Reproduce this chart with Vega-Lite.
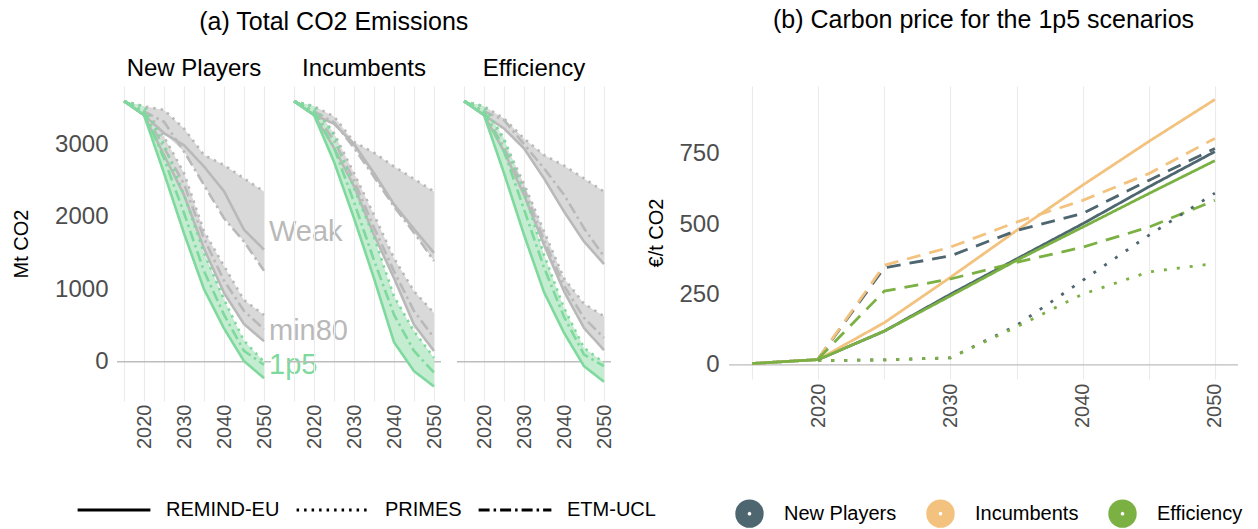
{
 "$schema": "https://vega.github.io/schema/vega-lite/v6.json",
 "background": "white",
 "padding": {"left": 11, "top": 8, "right": 5, "bottom": 5},
 "config": {
  "font": "Liberation Sans",
  "view": {"stroke": null},
  "axis": {"domain": false, "ticks": false, "gridColor": "#ebebeb", "gridWidth": 1.1, "labelColor": "#4d4d4d", "labelFont": "Liberation Sans", "titleFont": "Liberation Sans", "titleFontWeight": "normal", "titleColor": "black"},
  "title": {"fontSize": 25, "fontWeight": "normal", "color": "black", "font": "Liberation Sans", "anchor": "middle"},
  "legend": {"labelFont": "Liberation Sans"}
 },
 "datasets": {
  "emis": [
   {"f":"New Players","s":"Weak","m":"REMIND-EU","y":2015,"v":3590},{"f":"New Players","s":"Weak","m":"REMIND-EU","y":2020,"v":3400},{"f":"New Players","s":"Weak","m":"REMIND-EU","y":2025,"v":3150},{"f":"New Players","s":"Weak","m":"REMIND-EU","y":2030,"v":2985},{"f":"New Players","s":"Weak","m":"REMIND-EU","y":2035,"v":2690},{"f":"New Players","s":"Weak","m":"REMIND-EU","y":2040,"v":2350},{"f":"New Players","s":"Weak","m":"REMIND-EU","y":2045,"v":1820},{"f":"New Players","s":"Weak","m":"REMIND-EU","y":2050,"v":1545},
   {"f":"New Players","s":"Weak","m":"PRIMES","y":2015,"v":3590},{"f":"New Players","s":"Weak","m":"PRIMES","y":2020,"v":3520},{"f":"New Players","s":"Weak","m":"PRIMES","y":2025,"v":3470},{"f":"New Players","s":"Weak","m":"PRIMES","y":2030,"v":3214},{"f":"New Players","s":"Weak","m":"PRIMES","y":2035,"v":2848},{"f":"New Players","s":"Weak","m":"PRIMES","y":2040,"v":2710},{"f":"New Players","s":"Weak","m":"PRIMES","y":2045,"v":2527},{"f":"New Players","s":"Weak","m":"PRIMES","y":2050,"v":2345},
   {"f":"New Players","s":"Weak","m":"ETM-UCL","y":2015,"v":3590},{"f":"New Players","s":"Weak","m":"ETM-UCL","y":2020,"v":3450},{"f":"New Players","s":"Weak","m":"ETM-UCL","y":2025,"v":3306},{"f":"New Players","s":"Weak","m":"ETM-UCL","y":2030,"v":2898},{"f":"New Players","s":"Weak","m":"ETM-UCL","y":2035,"v":2436},{"f":"New Players","s":"Weak","m":"ETM-UCL","y":2040,"v":1978},{"f":"New Players","s":"Weak","m":"ETM-UCL","y":2045,"v":1657},{"f":"New Players","s":"Weak","m":"ETM-UCL","y":2050,"v":1254},
   {"f":"New Players","s":"min80","m":"REMIND-EU","y":2015,"v":3590},{"f":"New Players","s":"min80","m":"REMIND-EU","y":2020,"v":3400},{"f":"New Players","s":"min80","m":"REMIND-EU","y":2025,"v":2850},{"f":"New Players","s":"min80","m":"REMIND-EU","y":2030,"v":2300},{"f":"New Players","s":"min80","m":"REMIND-EU","y":2035,"v":1560},{"f":"New Players","s":"min80","m":"REMIND-EU","y":2040,"v":950},{"f":"New Players","s":"min80","m":"REMIND-EU","y":2045,"v":520},{"f":"New Players","s":"min80","m":"REMIND-EU","y":2050,"v":284},
   {"f":"New Players","s":"min80","m":"PRIMES","y":2015,"v":3590},{"f":"New Players","s":"min80","m":"PRIMES","y":2020,"v":3520},{"f":"New Players","s":"min80","m":"PRIMES","y":2025,"v":3100},{"f":"New Players","s":"min80","m":"PRIMES","y":2030,"v":2600},{"f":"New Players","s":"min80","m":"PRIMES","y":2035,"v":1800},{"f":"New Players","s":"min80","m":"PRIMES","y":2040,"v":1320},{"f":"New Players","s":"min80","m":"PRIMES","y":2045,"v":850},{"f":"New Players","s":"min80","m":"PRIMES","y":2050,"v":645},
   {"f":"New Players","s":"min80","m":"ETM-UCL","y":2015,"v":3590},{"f":"New Players","s":"min80","m":"ETM-UCL","y":2020,"v":3450},{"f":"New Players","s":"min80","m":"ETM-UCL","y":2025,"v":2950},{"f":"New Players","s":"min80","m":"ETM-UCL","y":2030,"v":2450},{"f":"New Players","s":"min80","m":"ETM-UCL","y":2035,"v":1700},{"f":"New Players","s":"min80","m":"ETM-UCL","y":2040,"v":1120},{"f":"New Players","s":"min80","m":"ETM-UCL","y":2045,"v":700},{"f":"New Players","s":"min80","m":"ETM-UCL","y":2050,"v":450},
   {"f":"New Players","s":"1p5","m":"REMIND-EU","y":2015,"v":3590},{"f":"New Players","s":"1p5","m":"REMIND-EU","y":2020,"v":3400},{"f":"New Players","s":"1p5","m":"REMIND-EU","y":2025,"v":2600},{"f":"New Players","s":"1p5","m":"REMIND-EU","y":2030,"v":1770},{"f":"New Players","s":"1p5","m":"REMIND-EU","y":2035,"v":1000},{"f":"New Players","s":"1p5","m":"REMIND-EU","y":2040,"v":460},{"f":"New Players","s":"1p5","m":"REMIND-EU","y":2045,"v":10},{"f":"New Players","s":"1p5","m":"REMIND-EU","y":2050,"v":-225},
   {"f":"New Players","s":"1p5","m":"PRIMES","y":2015,"v":3590},{"f":"New Players","s":"1p5","m":"PRIMES","y":2020,"v":3520},{"f":"New Players","s":"1p5","m":"PRIMES","y":2025,"v":3000},{"f":"New Players","s":"1p5","m":"PRIMES","y":2030,"v":2300},{"f":"New Players","s":"1p5","m":"PRIMES","y":2035,"v":1500},{"f":"New Players","s":"1p5","m":"PRIMES","y":2040,"v":860},{"f":"New Players","s":"1p5","m":"PRIMES","y":2045,"v":290},{"f":"New Players","s":"1p5","m":"PRIMES","y":2050,"v":0},
   {"f":"New Players","s":"1p5","m":"ETM-UCL","y":2015,"v":3590},{"f":"New Players","s":"1p5","m":"ETM-UCL","y":2020,"v":3450},{"f":"New Players","s":"1p5","m":"ETM-UCL","y":2025,"v":2800},{"f":"New Players","s":"1p5","m":"ETM-UCL","y":2030,"v":2050},{"f":"New Players","s":"1p5","m":"ETM-UCL","y":2035,"v":1250},{"f":"New Players","s":"1p5","m":"ETM-UCL","y":2040,"v":650},{"f":"New Players","s":"1p5","m":"ETM-UCL","y":2045,"v":150},{"f":"New Players","s":"1p5","m":"ETM-UCL","y":2050,"v":-40},
   {"f":"Incumbents","s":"Weak","m":"REMIND-EU","y":2015,"v":3590},{"f":"Incumbents","s":"Weak","m":"REMIND-EU","y":2020,"v":3400},{"f":"Incumbents","s":"Weak","m":"REMIND-EU","y":2025,"v":3280},{"f":"Incumbents","s":"Weak","m":"REMIND-EU","y":2030,"v":3000},{"f":"Incumbents","s":"Weak","m":"REMIND-EU","y":2035,"v":2600},{"f":"Incumbents","s":"Weak","m":"REMIND-EU","y":2040,"v":2170},{"f":"Incumbents","s":"Weak","m":"REMIND-EU","y":2045,"v":1830},{"f":"Incumbents","s":"Weak","m":"REMIND-EU","y":2050,"v":1500},
   {"f":"Incumbents","s":"Weak","m":"PRIMES","y":2015,"v":3590},{"f":"Incumbents","s":"Weak","m":"PRIMES","y":2020,"v":3520},{"f":"Incumbents","s":"Weak","m":"PRIMES","y":2025,"v":3380},{"f":"Incumbents","s":"Weak","m":"PRIMES","y":2030,"v":3030},{"f":"Incumbents","s":"Weak","m":"PRIMES","y":2035,"v":2880},{"f":"Incumbents","s":"Weak","m":"PRIMES","y":2040,"v":2690},{"f":"Incumbents","s":"Weak","m":"PRIMES","y":2045,"v":2520},{"f":"Incumbents","s":"Weak","m":"PRIMES","y":2050,"v":2345},
   {"f":"Incumbents","s":"Weak","m":"ETM-UCL","y":2015,"v":3590},{"f":"Incumbents","s":"Weak","m":"ETM-UCL","y":2020,"v":3450},{"f":"Incumbents","s":"Weak","m":"ETM-UCL","y":2025,"v":3300},{"f":"Incumbents","s":"Weak","m":"ETM-UCL","y":2030,"v":2950},{"f":"Incumbents","s":"Weak","m":"ETM-UCL","y":2035,"v":2550},{"f":"Incumbents","s":"Weak","m":"ETM-UCL","y":2040,"v":2140},{"f":"Incumbents","s":"Weak","m":"ETM-UCL","y":2045,"v":1780},{"f":"Incumbents","s":"Weak","m":"ETM-UCL","y":2050,"v":1390},
   {"f":"Incumbents","s":"min80","m":"REMIND-EU","y":2015,"v":3590},{"f":"Incumbents","s":"min80","m":"REMIND-EU","y":2020,"v":3400},{"f":"Incumbents","s":"min80","m":"REMIND-EU","y":2025,"v":2950},{"f":"Incumbents","s":"min80","m":"REMIND-EU","y":2030,"v":2420},{"f":"Incumbents","s":"min80","m":"REMIND-EU","y":2035,"v":1749},{"f":"Incumbents","s":"min80","m":"REMIND-EU","y":2040,"v":1154},{"f":"Incumbents","s":"min80","m":"REMIND-EU","y":2045,"v":512},{"f":"Incumbents","s":"min80","m":"REMIND-EU","y":2050,"v":150},
   {"f":"Incumbents","s":"min80","m":"PRIMES","y":2015,"v":3590},{"f":"Incumbents","s":"min80","m":"PRIMES","y":2020,"v":3520},{"f":"Incumbents","s":"min80","m":"PRIMES","y":2025,"v":3150},{"f":"Incumbents","s":"min80","m":"PRIMES","y":2030,"v":2600},{"f":"Incumbents","s":"min80","m":"PRIMES","y":2035,"v":2024},{"f":"Incumbents","s":"min80","m":"PRIMES","y":2040,"v":1428},{"f":"Incumbents","s":"min80","m":"PRIMES","y":2045,"v":971},{"f":"Incumbents","s":"min80","m":"PRIMES","y":2050,"v":673},
   {"f":"Incumbents","s":"min80","m":"ETM-UCL","y":2015,"v":3590},{"f":"Incumbents","s":"min80","m":"ETM-UCL","y":2020,"v":3450},{"f":"Incumbents","s":"min80","m":"ETM-UCL","y":2025,"v":3050},{"f":"Incumbents","s":"min80","m":"ETM-UCL","y":2030,"v":2500},{"f":"Incumbents","s":"min80","m":"ETM-UCL","y":2035,"v":1850},{"f":"Incumbents","s":"min80","m":"ETM-UCL","y":2040,"v":1250},{"f":"Incumbents","s":"min80","m":"ETM-UCL","y":2045,"v":700},{"f":"Incumbents","s":"min80","m":"ETM-UCL","y":2050,"v":330},
   {"f":"Incumbents","s":"1p5","m":"REMIND-EU","y":2015,"v":3590},{"f":"Incumbents","s":"1p5","m":"REMIND-EU","y":2020,"v":3400},{"f":"Incumbents","s":"1p5","m":"REMIND-EU","y":2025,"v":2756},{"f":"Incumbents","s":"1p5","m":"REMIND-EU","y":2030,"v":1978},{"f":"Incumbents","s":"1p5","m":"REMIND-EU","y":2035,"v":1150},{"f":"Incumbents","s":"1p5","m":"REMIND-EU","y":2040,"v":270},{"f":"Incumbents","s":"1p5","m":"REMIND-EU","y":2045,"v":-128},{"f":"Incumbents","s":"1p5","m":"REMIND-EU","y":2050,"v":-340},
   {"f":"Incumbents","s":"1p5","m":"PRIMES","y":2015,"v":3590},{"f":"Incumbents","s":"1p5","m":"PRIMES","y":2020,"v":3520},{"f":"Incumbents","s":"1p5","m":"PRIMES","y":2025,"v":3122},{"f":"Incumbents","s":"1p5","m":"PRIMES","y":2030,"v":2390},{"f":"Incumbents","s":"1p5","m":"PRIMES","y":2035,"v":1720},{"f":"Incumbents","s":"1p5","m":"PRIMES","y":2040,"v":900},{"f":"Incumbents","s":"1p5","m":"PRIMES","y":2045,"v":420},{"f":"Incumbents","s":"1p5","m":"PRIMES","y":2050,"v":55},
   {"f":"Incumbents","s":"1p5","m":"ETM-UCL","y":2015,"v":3590},{"f":"Incumbents","s":"1p5","m":"ETM-UCL","y":2020,"v":3450},{"f":"Incumbents","s":"1p5","m":"ETM-UCL","y":2025,"v":2950},{"f":"Incumbents","s":"1p5","m":"ETM-UCL","y":2030,"v":2200},{"f":"Incumbents","s":"1p5","m":"ETM-UCL","y":2035,"v":1400},{"f":"Incumbents","s":"1p5","m":"ETM-UCL","y":2040,"v":650},{"f":"Incumbents","s":"1p5","m":"ETM-UCL","y":2045,"v":150},{"f":"Incumbents","s":"1p5","m":"ETM-UCL","y":2050,"v":-150},
   {"f":"Efficiency","s":"Weak","m":"REMIND-EU","y":2015,"v":3590},{"f":"Efficiency","s":"Weak","m":"REMIND-EU","y":2020,"v":3400},{"f":"Efficiency","s":"Weak","m":"REMIND-EU","y":2025,"v":3214},{"f":"Efficiency","s":"Weak","m":"REMIND-EU","y":2030,"v":2940},{"f":"Efficiency","s":"Weak","m":"REMIND-EU","y":2035,"v":2527},{"f":"Efficiency","s":"Weak","m":"REMIND-EU","y":2040,"v":2070},{"f":"Efficiency","s":"Weak","m":"REMIND-EU","y":2045,"v":1657},{"f":"Efficiency","s":"Weak","m":"REMIND-EU","y":2050,"v":1346},
   {"f":"Efficiency","s":"Weak","m":"PRIMES","y":2015,"v":3590},{"f":"Efficiency","s":"Weak","m":"PRIMES","y":2020,"v":3520},{"f":"Efficiency","s":"Weak","m":"PRIMES","y":2025,"v":3352},{"f":"Efficiency","s":"Weak","m":"PRIMES","y":2030,"v":3077},{"f":"Efficiency","s":"Weak","m":"PRIMES","y":2035,"v":2848},{"f":"Efficiency","s":"Weak","m":"PRIMES","y":2040,"v":2702},{"f":"Efficiency","s":"Weak","m":"PRIMES","y":2045,"v":2527},{"f":"Efficiency","s":"Weak","m":"PRIMES","y":2050,"v":2345},
   {"f":"Efficiency","s":"Weak","m":"ETM-UCL","y":2015,"v":3590},{"f":"Efficiency","s":"Weak","m":"ETM-UCL","y":2020,"v":3450},{"f":"Efficiency","s":"Weak","m":"ETM-UCL","y":2025,"v":3330},{"f":"Efficiency","s":"Weak","m":"ETM-UCL","y":2030,"v":3000},{"f":"Efficiency","s":"Weak","m":"ETM-UCL","y":2035,"v":2665},{"f":"Efficiency","s":"Weak","m":"ETM-UCL","y":2040,"v":2303},{"f":"Efficiency","s":"Weak","m":"ETM-UCL","y":2045,"v":1841},{"f":"Efficiency","s":"Weak","m":"ETM-UCL","y":2050,"v":1450},
   {"f":"Efficiency","s":"min80","m":"REMIND-EU","y":2015,"v":3590},{"f":"Efficiency","s":"min80","m":"REMIND-EU","y":2020,"v":3400},{"f":"Efficiency","s":"min80","m":"REMIND-EU","y":2025,"v":2900},{"f":"Efficiency","s":"min80","m":"REMIND-EU","y":2030,"v":2300},{"f":"Efficiency","s":"min80","m":"REMIND-EU","y":2035,"v":1612},{"f":"Efficiency","s":"min80","m":"REMIND-EU","y":2040,"v":971},{"f":"Efficiency","s":"min80","m":"REMIND-EU","y":2045,"v":467},{"f":"Efficiency","s":"min80","m":"REMIND-EU","y":2050,"v":160},
   {"f":"Efficiency","s":"min80","m":"PRIMES","y":2015,"v":3590},{"f":"Efficiency","s":"min80","m":"PRIMES","y":2020,"v":3520},{"f":"Efficiency","s":"min80","m":"PRIMES","y":2025,"v":3050},{"f":"Efficiency","s":"min80","m":"PRIMES","y":2030,"v":2450},{"f":"Efficiency","s":"min80","m":"PRIMES","y":2035,"v":1800},{"f":"Efficiency","s":"min80","m":"PRIMES","y":2040,"v":1150},{"f":"Efficiency","s":"min80","m":"PRIMES","y":2045,"v":800},{"f":"Efficiency","s":"min80","m":"PRIMES","y":2050,"v":627},
   {"f":"Efficiency","s":"min80","m":"ETM-UCL","y":2015,"v":3590},{"f":"Efficiency","s":"min80","m":"ETM-UCL","y":2020,"v":3450},{"f":"Efficiency","s":"min80","m":"ETM-UCL","y":2025,"v":2950},{"f":"Efficiency","s":"min80","m":"ETM-UCL","y":2030,"v":2380},{"f":"Efficiency","s":"min80","m":"ETM-UCL","y":2035,"v":1680},{"f":"Efficiency","s":"min80","m":"ETM-UCL","y":2040,"v":1050},{"f":"Efficiency","s":"min80","m":"ETM-UCL","y":2045,"v":604},{"f":"Efficiency","s":"min80","m":"ETM-UCL","y":2050,"v":330},
   {"f":"Efficiency","s":"1p5","m":"REMIND-EU","y":2015,"v":3590},{"f":"Efficiency","s":"1p5","m":"REMIND-EU","y":2020,"v":3400},{"f":"Efficiency","s":"1p5","m":"REMIND-EU","y":2025,"v":2600},{"f":"Efficiency","s":"1p5","m":"REMIND-EU","y":2030,"v":1750},{"f":"Efficiency","s":"1p5","m":"REMIND-EU","y":2035,"v":960},{"f":"Efficiency","s":"1p5","m":"REMIND-EU","y":2040,"v":400},{"f":"Efficiency","s":"1p5","m":"REMIND-EU","y":2045,"v":-60},{"f":"Efficiency","s":"1p5","m":"REMIND-EU","y":2050,"v":-275},
   {"f":"Efficiency","s":"1p5","m":"PRIMES","y":2015,"v":3590},{"f":"Efficiency","s":"1p5","m":"PRIMES","y":2020,"v":3520},{"f":"Efficiency","s":"1p5","m":"PRIMES","y":2025,"v":3077},{"f":"Efficiency","s":"1p5","m":"PRIMES","y":2030,"v":2345},{"f":"Efficiency","s":"1p5","m":"PRIMES","y":2035,"v":1474},{"f":"Efficiency","s":"1p5","m":"PRIMES","y":2040,"v":742},{"f":"Efficiency","s":"1p5","m":"PRIMES","y":2045,"v":192},{"f":"Efficiency","s":"1p5","m":"PRIMES","y":2050,"v":-14},
   {"f":"Efficiency","s":"1p5","m":"ETM-UCL","y":2015,"v":3590},{"f":"Efficiency","s":"1p5","m":"ETM-UCL","y":2020,"v":3450},{"f":"Efficiency","s":"1p5","m":"ETM-UCL","y":2025,"v":2900},{"f":"Efficiency","s":"1p5","m":"ETM-UCL","y":2030,"v":2100},{"f":"Efficiency","s":"1p5","m":"ETM-UCL","y":2035,"v":1300},{"f":"Efficiency","s":"1p5","m":"ETM-UCL","y":2040,"v":620},{"f":"Efficiency","s":"1p5","m":"ETM-UCL","y":2045,"v":100},{"f":"Efficiency","s":"1p5","m":"ETM-UCL","y":2050,"v":-60},
   {"f":"New Players","s":"Weak","lab":"Weak","y":2050,"v":1790},
   {"f":"New Players","s":"min80","lab":"min80","y":2050,"v":430},
   {"f":"New Players","s":"1p5","lab":"1p5","y":2050,"v":-50}
  ],
  "price": [
   {"sc":"New Players","m":"REMIND-EU","y":2015,"v":5},{"sc":"New Players","m":"REMIND-EU","y":2020,"v":19},{"sc":"New Players","m":"REMIND-EU","y":2025,"v":120},{"sc":"New Players","m":"REMIND-EU","y":2030,"v":251},{"sc":"New Players","m":"REMIND-EU","y":2035,"v":376},{"sc":"New Players","m":"REMIND-EU","y":2040,"v":501},{"sc":"New Players","m":"REMIND-EU","y":2045,"v":632},{"sc":"New Players","m":"REMIND-EU","y":2050,"v":757},
   {"sc":"Incumbents","m":"REMIND-EU","y":2015,"v":5},{"sc":"Incumbents","m":"REMIND-EU","y":2020,"v":19},{"sc":"Incumbents","m":"REMIND-EU","y":2025,"v":150},{"sc":"Incumbents","m":"REMIND-EU","y":2030,"v":311},{"sc":"Incumbents","m":"REMIND-EU","y":2035,"v":477},{"sc":"Incumbents","m":"REMIND-EU","y":2040,"v":638},{"sc":"Incumbents","m":"REMIND-EU","y":2045,"v":793},{"sc":"Incumbents","m":"REMIND-EU","y":2050,"v":942},
   {"sc":"Efficiency","m":"REMIND-EU","y":2015,"v":5},{"sc":"Efficiency","m":"REMIND-EU","y":2020,"v":19},{"sc":"Efficiency","m":"REMIND-EU","y":2025,"v":120},{"sc":"Efficiency","m":"REMIND-EU","y":2030,"v":245},{"sc":"Efficiency","m":"REMIND-EU","y":2035,"v":371},{"sc":"Efficiency","m":"REMIND-EU","y":2040,"v":489},{"sc":"Efficiency","m":"REMIND-EU","y":2045,"v":608},{"sc":"Efficiency","m":"REMIND-EU","y":2050,"v":725},
   {"sc":"New Players","m":"ETM-UCL","y":2020,"v":22},{"sc":"New Players","m":"ETM-UCL","y":2025,"v":345},{"sc":"New Players","m":"ETM-UCL","y":2030,"v":387},{"sc":"New Players","m":"ETM-UCL","y":2035,"v":477},{"sc":"New Players","m":"ETM-UCL","y":2040,"v":538},{"sc":"New Players","m":"ETM-UCL","y":2045,"v":655},{"sc":"New Players","m":"ETM-UCL","y":2050,"v":768},
   {"sc":"Incumbents","m":"ETM-UCL","y":2020,"v":22},{"sc":"Incumbents","m":"ETM-UCL","y":2025,"v":354},{"sc":"Incumbents","m":"ETM-UCL","y":2030,"v":418},{"sc":"Incumbents","m":"ETM-UCL","y":2035,"v":507},{"sc":"Incumbents","m":"ETM-UCL","y":2040,"v":584},{"sc":"Incumbents","m":"ETM-UCL","y":2045,"v":679},{"sc":"Incumbents","m":"ETM-UCL","y":2050,"v":804},
   {"sc":"Efficiency","m":"ETM-UCL","y":2020,"v":22},{"sc":"Efficiency","m":"ETM-UCL","y":2025,"v":262},{"sc":"Efficiency","m":"ETM-UCL","y":2030,"v":305},{"sc":"Efficiency","m":"ETM-UCL","y":2035,"v":364},{"sc":"Efficiency","m":"ETM-UCL","y":2040,"v":418},{"sc":"Efficiency","m":"ETM-UCL","y":2045,"v":489},{"sc":"Efficiency","m":"ETM-UCL","y":2050,"v":584},
   {"sc":"New Players","m":"PRIMES","y":2020,"v":15},{"sc":"New Players","m":"PRIMES","y":2025,"v":18},{"sc":"New Players","m":"PRIMES","y":2030,"v":25},{"sc":"New Players","m":"PRIMES","y":2035,"v":140},{"sc":"New Players","m":"PRIMES","y":2040,"v":300},{"sc":"New Players","m":"PRIMES","y":2045,"v":460},{"sc":"New Players","m":"PRIMES","y":2050,"v":610},
   {"sc":"Efficiency","m":"PRIMES","y":2020,"v":15},{"sc":"Efficiency","m":"PRIMES","y":2025,"v":18},{"sc":"Efficiency","m":"PRIMES","y":2030,"v":25},{"sc":"Efficiency","m":"PRIMES","y":2035,"v":135},{"sc":"Efficiency","m":"PRIMES","y":2040,"v":251},{"sc":"Efficiency","m":"PRIMES","y":2045,"v":330},{"sc":"Efficiency","m":"PRIMES","y":2050,"v":360}
  ]
 },
 "spacing": -10,
 "resolve": {"scale": {"color": "independent", "strokeDash": "independent", "fill": "independent", "x": "independent", "y": "independent"}, "legend": {"color": "independent", "strokeDash": "independent"}},
 "hconcat": [
  {
   "title": {"text": "(a) Total CO2 Emissions", "offset": 22},
   "data": {"name": "emis"},
   "spacing": 16,
   "bounds": "flush",
   "resolve": {"scale": {"color": "independent", "strokeDash": "independent", "fill": "independent", "x": "independent", "y": "independent"}, "legend": {"strokeDash": "independent"}},
   "hconcat": [
    {
     "title": {"text": "New Players", "fontSize": 24, "offset": 5},
     "width": 154, "height": 315,
     "transform": [{"filter": "datum.f == 'New Players'"}],
     "layer": [
      {"transform": [{"filter": "datum.y == 2015 && datum.s == 'Weak' && datum.m == 'REMIND-EU'"}],
       "mark": {"type": "rule", "color": "#bdbdbd", "strokeWidth": 1.4},
       "encoding": {"y": {"datum": 0, "type": "quantitative", "title": "Mt CO2", "scale": {"domain": [-540, 3800], "nice": false, "zero": false}, "axis": {"values": [-500, 0, 500, 1000, 1500, 2000, 2500, 3000, 3500], "format": "d", "labelExpr": "datum.value % 1000 == 0 ? datum.label : ''", "labelFontSize": 24, "labelPadding": 9, "titleFontSize": 20, "titlePadding": 23, "labelOverlap": false}}}},
      {"transform": [{"filter": "datum.m != null"}, {"aggregate": [{"op": "min", "field": "v", "as": "lo"}, {"op": "max", "field": "v", "as": "hi"}], "groupby": ["s", "y"]}],
       "mark": {"type": "area"},
       "encoding": {
        "x": {"field": "y", "type": "quantitative", "title": null, "scale": {"domain": [2013.25, 2051.75], "nice": false, "zero": false}, "axis": {"values": [2015, 2020, 2025, 2030, 2035, 2040, 2045, 2050], "format": "d", "labelExpr": "datum.value % 10 == 0 ? datum.label : ''", "labelAngle": -90, "labelFontSize": 20, "labelPadding": 3, "labelOverlap": false}},
        "y": {"field": "lo", "type": "quantitative", "title": "Mt CO2", "scale": {"domain": [-540, 3800], "nice": false, "zero": false}, "axis": {"values": [-500, 0, 500, 1000, 1500, 2000, 2500, 3000, 3500], "format": "d", "labelExpr": "datum.value % 1000 == 0 ? datum.label : ''", "labelFontSize": 24, "labelPadding": 9, "titleFontSize": 20, "titlePadding": 23, "labelOverlap": false}},
        "y2": {"field": "hi"},
        "fill": {"field": "s", "type": "nominal", "scale": {"domain": ["Weak", "min80", "1p5"], "range": ["#d9d9d9", "#d9d9d9", "#c3ecd0"]}, "legend": null}}},
      {"transform": [{"filter": "datum.m != null"}],
       "mark": {"type": "line", "strokeWidth": 2.6, "strokeCap": "butt"},
       "encoding": {
        "x": {"field": "y", "type": "quantitative", "title": null, "scale": {"domain": [2013.25, 2051.75], "nice": false, "zero": false}, "axis": {"values": [2015, 2020, 2025, 2030, 2035, 2040, 2045, 2050], "format": "d", "labelExpr": "datum.value % 10 == 0 ? datum.label : ''", "labelAngle": -90, "labelFontSize": 20, "labelPadding": 3, "labelOverlap": false}},
        "y": {"field": "v", "type": "quantitative", "title": "Mt CO2", "scale": {"domain": [-540, 3800], "nice": false, "zero": false}, "axis": {"values": [-500, 0, 500, 1000, 1500, 2000, 2500, 3000, 3500], "format": "d", "labelExpr": "datum.value % 1000 == 0 ? datum.label : ''", "labelFontSize": 24, "labelPadding": 9, "titleFontSize": 20, "titlePadding": 23, "labelOverlap": false}},
        "color": {"field": "s", "type": "nominal", "scale": {"domain": ["Weak", "min80", "1p5"], "range": ["#b9b9b9", "#b9b9b9", "#7ed99d"]}, "legend": null},
        "strokeDash": {"field": "m", "type": "nominal", "scale": {"domain": ["REMIND-EU", "PRIMES", "ETM-UCL"], "range": [[1, 0], [2.5, 5], [11, 4, 2.5, 4]]},
         "legend": {"orient": "none", "legendX": -41, "legendY": 386, "direction": "horizontal", "title": null, "symbolType": "stroke", "symbolSize": 5300, "symbolStrokeWidth": 3, "symbolStrokeColor": "black", "labelFontSize": 20, "labelColor": "black", "labelOffset": 14, "columnPadding": 10}}}},
      {"transform": [{"filter": "datum.lab != null"}],
       "mark": {"type": "text", "align": "left", "baseline": "middle", "dx": 5, "fontSize": 29, "font": "Liberation Sans"},
       "encoding": {
        "x": {"field": "y", "type": "quantitative", "title": null, "scale": {"domain": [2013.25, 2051.75], "nice": false, "zero": false}, "axis": {"values": [2015, 2020, 2025, 2030, 2035, 2040, 2045, 2050], "format": "d", "labelExpr": "datum.value % 10 == 0 ? datum.label : ''", "labelAngle": -90, "labelFontSize": 20, "labelPadding": 3, "labelOverlap": false}},
        "y": {"field": "v", "type": "quantitative", "title": "Mt CO2", "scale": {"domain": [-540, 3800], "nice": false, "zero": false}, "axis": {"values": [-500, 0, 500, 1000, 1500, 2000, 2500, 3000, 3500], "format": "d", "labelExpr": "datum.value % 1000 == 0 ? datum.label : ''", "labelFontSize": 24, "labelPadding": 9, "titleFontSize": 20, "titlePadding": 23, "labelOverlap": false}},
        "text": {"field": "lab"},
        "color": {"field": "s", "type": "nominal", "legend": null}}}
     ]
    },
    {
     "title": {"text": "Incumbents", "fontSize": 24, "offset": 5},
     "width": 154, "height": 315,
     "transform": [{"filter": "datum.f == 'Incumbents'"}],
     "layer": [
      {"transform": [{"filter": "datum.y == 2015 && datum.s == 'Weak' && datum.m == 'REMIND-EU'"}],
       "mark": {"type": "rule", "color": "#bdbdbd", "strokeWidth": 1.4},
       "encoding": {"y": {"datum": 0, "type": "quantitative", "title": null, "scale": {"domain": [-540, 3800], "nice": false, "zero": false}, "axis": {"values": [-500, 0, 500, 1000, 1500, 2000, 2500, 3000, 3500], "labels": false}}}},
      {"transform": [{"filter": "datum.m != null"}, {"aggregate": [{"op": "min", "field": "v", "as": "lo"}, {"op": "max", "field": "v", "as": "hi"}], "groupby": ["s", "y"]}],
       "mark": {"type": "area"},
       "encoding": {
        "x": {"field": "y", "type": "quantitative", "title": null, "scale": {"domain": [2013.25, 2051.75], "nice": false, "zero": false}, "axis": {"values": [2015, 2020, 2025, 2030, 2035, 2040, 2045, 2050], "format": "d", "labelExpr": "datum.value % 10 == 0 ? datum.label : ''", "labelAngle": -90, "labelFontSize": 20, "labelPadding": 3, "labelOverlap": false}},
        "y": {"field": "lo", "type": "quantitative", "title": null, "scale": {"domain": [-540, 3800], "nice": false, "zero": false}, "axis": {"values": [-500, 0, 500, 1000, 1500, 2000, 2500, 3000, 3500], "labels": false}},
        "y2": {"field": "hi"},
        "fill": {"field": "s", "type": "nominal", "scale": {"domain": ["Weak", "min80", "1p5"], "range": ["#d9d9d9", "#d9d9d9", "#c3ecd0"]}, "legend": null}}},
      {"transform": [{"filter": "datum.m != null"}],
       "mark": {"type": "line", "strokeWidth": 2.6, "strokeCap": "butt"},
       "encoding": {
        "x": {"field": "y", "type": "quantitative", "title": null, "scale": {"domain": [2013.25, 2051.75], "nice": false, "zero": false}, "axis": {"values": [2015, 2020, 2025, 2030, 2035, 2040, 2045, 2050], "format": "d", "labelExpr": "datum.value % 10 == 0 ? datum.label : ''", "labelAngle": -90, "labelFontSize": 20, "labelPadding": 3, "labelOverlap": false}},
        "y": {"field": "v", "type": "quantitative", "title": null, "scale": {"domain": [-540, 3800], "nice": false, "zero": false}, "axis": {"values": [-500, 0, 500, 1000, 1500, 2000, 2500, 3000, 3500], "labels": false}},
        "color": {"field": "s", "type": "nominal", "scale": {"domain": ["Weak", "min80", "1p5"], "range": ["#b9b9b9", "#b9b9b9", "#7ed99d"]}, "legend": null},
        "strokeDash": {"field": "m", "type": "nominal", "scale": {"domain": ["REMIND-EU", "PRIMES", "ETM-UCL"], "range": [[1, 0], [2.5, 5], [11, 4, 2.5, 4]]}, "legend": null}}}
     ]
    },
    {
     "title": {"text": "Efficiency", "fontSize": 24, "offset": 5},
     "width": 154, "height": 315,
     "transform": [{"filter": "datum.f == 'Efficiency'"}],
     "layer": [
      {"transform": [{"filter": "datum.y == 2015 && datum.s == 'Weak' && datum.m == 'REMIND-EU'"}],
       "mark": {"type": "rule", "color": "#bdbdbd", "strokeWidth": 1.4},
       "encoding": {"y": {"datum": 0, "type": "quantitative", "title": null, "scale": {"domain": [-540, 3800], "nice": false, "zero": false}, "axis": {"values": [-500, 0, 500, 1000, 1500, 2000, 2500, 3000, 3500], "labels": false}}}},
      {"transform": [{"filter": "datum.m != null"}, {"aggregate": [{"op": "min", "field": "v", "as": "lo"}, {"op": "max", "field": "v", "as": "hi"}], "groupby": ["s", "y"]}],
       "mark": {"type": "area"},
       "encoding": {
        "x": {"field": "y", "type": "quantitative", "title": null, "scale": {"domain": [2013.25, 2051.75], "nice": false, "zero": false}, "axis": {"values": [2015, 2020, 2025, 2030, 2035, 2040, 2045, 2050], "format": "d", "labelExpr": "datum.value % 10 == 0 ? datum.label : ''", "labelAngle": -90, "labelFontSize": 20, "labelPadding": 3, "labelOverlap": false}},
        "y": {"field": "lo", "type": "quantitative", "title": null, "scale": {"domain": [-540, 3800], "nice": false, "zero": false}, "axis": {"values": [-500, 0, 500, 1000, 1500, 2000, 2500, 3000, 3500], "labels": false}},
        "y2": {"field": "hi"},
        "fill": {"field": "s", "type": "nominal", "scale": {"domain": ["Weak", "min80", "1p5"], "range": ["#d9d9d9", "#d9d9d9", "#c3ecd0"]}, "legend": null}}},
      {"transform": [{"filter": "datum.m != null"}],
       "mark": {"type": "line", "strokeWidth": 2.6, "strokeCap": "butt"},
       "encoding": {
        "x": {"field": "y", "type": "quantitative", "title": null, "scale": {"domain": [2013.25, 2051.75], "nice": false, "zero": false}, "axis": {"values": [2015, 2020, 2025, 2030, 2035, 2040, 2045, 2050], "format": "d", "labelExpr": "datum.value % 10 == 0 ? datum.label : ''", "labelAngle": -90, "labelFontSize": 20, "labelPadding": 3, "labelOverlap": false}},
        "y": {"field": "v", "type": "quantitative", "title": null, "scale": {"domain": [-540, 3800], "nice": false, "zero": false}, "axis": {"values": [-500, 0, 500, 1000, 1500, 2000, 2500, 3000, 3500], "labels": false}},
        "color": {"field": "s", "type": "nominal", "scale": {"domain": ["Weak", "min80", "1p5"], "range": ["#b9b9b9", "#b9b9b9", "#7ed99d"]}, "legend": null},
        "strokeDash": {"field": "m", "type": "nominal", "scale": {"domain": ["REMIND-EU", "PRIMES", "ETM-UCL"], "range": [[1, 0], [2.5, 5], [11, 4, 2.5, 4]]}, "legend": null}}}
     ]
    }
   ]
  },
  {
   "title": {"text": "(b) Carbon price for the 1p5 scenarios", "offset": 53},
   "data": {"name": "price"},
   "width": 509,
   "height": 293,
   "layer": [
    {"transform": [{"filter": "datum.y == 2015 && datum.sc == 'New Players'"}],
     "mark": {"type": "rule", "color": "#bdbdbd", "strokeWidth": 1.4},
     "encoding": {"y": {"datum": 0, "type": "quantitative", "title": "€/t CO2", "scale": {"domain": [-50, 990], "nice": false, "zero": false}, "axis": {"values": [0, 125, 250, 375, 500, 625, 750, 875], "format": "d", "labelExpr": "datum.value % 250 == 0 ? datum.label : ''", "labelFontSize": 24, "labelPadding": 10, "titleFontSize": 20, "titlePadding": 12, "labelOverlap": false}}}},
    {"mark": {"type": "line", "strokeWidth": 2.8, "strokeCap": "butt"},
     "encoding": {
      "x": {"field": "y", "type": "quantitative", "title": null, "scale": {"domain": [2013.25, 2051.75], "nice": false, "zero": false}, "axis": {"values": [2015, 2020, 2025, 2030, 2035, 2040, 2045, 2050], "format": "d", "labelExpr": "datum.value % 10 == 0 ? datum.label : ''", "labelAngle": -90, "labelFontSize": 20, "labelPadding": 4, "labelOverlap": false}},
      "y": {"field": "v", "type": "quantitative", "title": "€/t CO2", "scale": {"domain": [-50, 990], "nice": false, "zero": false}, "axis": {"values": [0, 125, 250, 375, 500, 625, 750, 875], "format": "d", "labelExpr": "datum.value % 250 == 0 ? datum.label : ''", "labelFontSize": 24, "labelPadding": 10, "titleFontSize": 20, "titlePadding": 12, "labelOverlap": false}},
      "color": {"field": "sc", "type": "nominal", "scale": {"domain": ["New Players", "Incumbents", "Efficiency"], "range": ["#4e6670", "#f2c27e", "#7bb143"]},
       "legend": {"orient": "none", "legendX": 6, "legendY": 413, "direction": "horizontal", "title": null, "symbolType": "circle", "symbolSize": 154, "symbolStrokeWidth": 16, "symbolOpacity": 1, "labelFontSize": 20, "labelColor": "black", "labelOffset": 20, "columnPadding": 5}},
      "strokeDash": {"field": "m", "type": "nominal", "scale": {"domain": ["REMIND-EU", "PRIMES", "ETM-UCL"], "range": [[1, 0], [3, 10], [14, 9]]}, "legend": null}}}
   ]
  }
 ]
}
